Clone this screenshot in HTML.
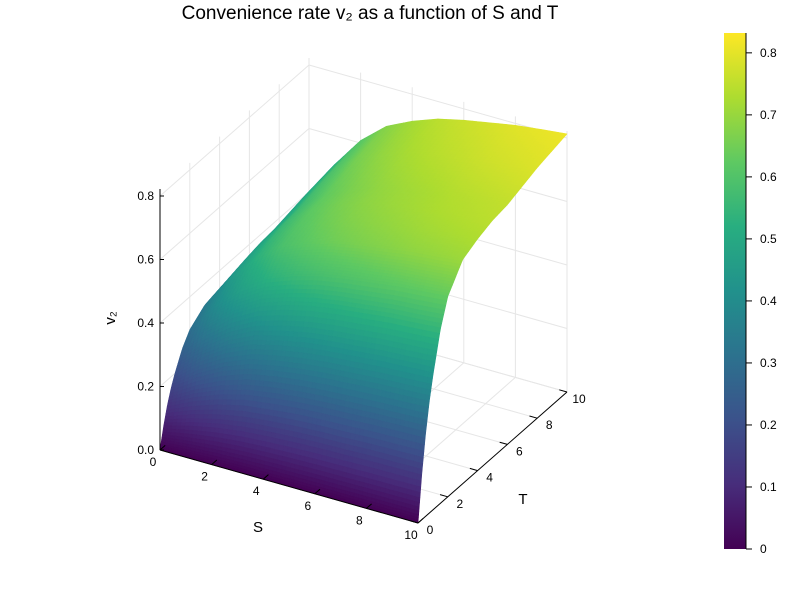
<!DOCTYPE html>
<html><head><meta charset="utf-8"><style>
html,body{margin:0;padding:0;background:#fff;}
svg{display:block;font-family:"Liberation Sans","DejaVu Sans",sans-serif;}
</style></head><body>
<svg id="chart" width="800" height="600" viewBox="0 0 800 600">
<defs>
<linearGradient id="vir" x1="0" y1="1" x2="0" y2="0">
<stop offset="0" stop-color="#440154"/><stop offset="0.125" stop-color="#472d7b"/><stop offset="0.25" stop-color="#3b528b"/><stop offset="0.375" stop-color="#2c728e"/><stop offset="0.5" stop-color="#21918c"/><stop offset="0.625" stop-color="#28ae80"/><stop offset="0.75" stop-color="#5ec962"/><stop offset="0.875" stop-color="#addc30"/><stop offset="1" stop-color="#fde725"/>
</linearGradient>
</defs>
<text x="370" y="19" text-anchor="middle" font-size="19" fill="#000">Convenience rate v₂ as a function of S and T</text>
<g id="grid"></g>
<g id="surf"></g>
<g id="axes"></g>
<text x="258" y="532" text-anchor="middle" font-size="15">S</text>
<text x="523" y="504" text-anchor="middle" font-size="15">T</text>
<text x="0" y="0" transform="translate(115,318) rotate(-90)" text-anchor="middle" font-size="15">v₂</text>
<rect x="724" y="33" width="22" height="516" fill="url(#vir)"/>
<line x1="746" y1="33" x2="746" y2="549" stroke="#000" stroke-width="1"/>
<g id="cbar"></g>
</svg>
<script>
const sVals = [0,1,2,3,4,5,6,7,8,9,10];
const tVals = [0,0.25,0.5,0.75,1,1.5,2,3,4,5,6,8,10];
// v2 values: rows = S, columns = T
const zRows = [
[0,.066,.121,.164,.199,.257,.296,.332,.343,.351,.355,.371,.382],
[0,.088,.161,.218,.265,.343,.395,.442,.458,.468,.473,.494,.510],
[0,.105,.192,.260,.316,.409,.471,.527,.546,.558,.564,.589,.608],
[0,.117,.214,.290,.352,.455,.524,.587,.607,.621,.628,.656,.676],
[0,.124,.226,.307,.372,.482,.555,.621,.642,.657,.664,.694,.715],
[0,.129,.236,.319,.388,.502,.578,.646,.669,.684,.692,.722,.745],
[0,.133,.242,.328,.398,.515,.593,.663,.686,.702,.710,.741,.764],
[0,.135,.246,.334,.405,.525,.604,.676,.700,.716,.723,.755,.779],
[0,.138,.251,.340,.413,.535,.616,.689,.713,.729,.737,.770,.794],
[0,.139,.254,.344,.418,.541,.623,.697,.722,.738,.746,.779,.804],
[0,.141,.257,.349,.423,.548,.631,.706,.730,.747,.755,.789,.813]
];
const zTicks = [0,0.2,0.4,0.6,0.8];
const sTicks = [0,2,4,6,8,10];
const tTicks = [0,2,4,6,8,10];
const cTicks = [0,0.1,0.2,0.3,0.4,0.5,0.6,0.7,0.8];
const zMaxBox = 0.822, cMax = 0.832;

const NS='http://www.w3.org/2000/svg';
function P(S,T,z){return [160+S*25.8+T*14.9, 450+S*7.3-T*13.1-z*317.5];}
const vir=['#440154','#472d7b','#3b528b','#2c728e','#21918c','#28ae80','#5ec962','#addc30','#fde725'];
function hx(c){return [1,3,5].map(i=>parseInt(c.substr(i,2),16));}
const virRGB=vir.map(hx);
function color(v){let t=Math.max(0,Math.min(1,v/cMax))*8;let i=Math.min(7,Math.floor(t));let f=t-i;
 const a=virRGB[i],b=virRGB[i+1];return 'rgb('+a.map((x,k)=>Math.round(x+(b[k]-x)*f)).join(',')+')';}
function mk(tag,attrs,parent){const e=document.createElementNS(NS,tag);for(const k in attrs)e.setAttribute(k,attrs[k]);parent.appendChild(e);return e;}
function interp(arr,v){for(let i=0;i<arr.length-1;i++){if(v<=arr[i+1])return [i,(v-arr[i])/(arr[i+1]-arr[i])];}return [arr.length-2,1];}
function Z(S,T){const [i,fs]=interp(sVals,S);const [j,ft]=interp(tVals,T);
 const a=zRows[i][j],b=zRows[i][j+1],c=zRows[i+1][j],d=zRows[i+1][j+1];
 return a*(1-fs)*(1-ft)+b*(1-fs)*ft+c*fs*(1-ft)+d*fs*ft;}

const grid=document.getElementById('grid');
const gs={stroke:'#e6e6e6','stroke-width':1,fill:'none'};
function line(a,b,par,st,name){const l=mk('line',Object.assign({x1:a[0],y1:a[1],x2:b[0],y2:b[1]},st),par);return l;}
zTicks.forEach(z=>{line(P(0,0,z),P(0,10,z),grid,gs,'z-grid-left');line(P(0,10,z),P(10,10,z),grid,gs,'z-grid-back');});
sTicks.forEach(s=>{line(P(s,10,0),P(s,10,zMaxBox),grid,gs,'s-grid-back');line(P(s,0,0),P(s,10,0),grid,gs,'s-grid-floor');});
tTicks.forEach(t=>{line(P(0,t,0),P(0,t,zMaxBox),grid,gs,'t-grid-left');line(P(0,t,0),P(10,t,0),grid,gs,'t-grid-floor');});

const surf=document.getElementById('surf');
const sm=[],tm=[];
for(let i=0;i<=60;i++)sm.push(i*10/60);
for(let j=0;j<=120;j++){const u=j/120;tm.push(10*Math.pow(u,1.6));}
const quads=[];
for(let i=0;i<sm.length-1;i++)for(let j=0;j<tm.length-1;j++){
 const s0=sm[i],s1=sm[i+1],t0=tm[j],t1=tm[j+1];
 const pts=[[s0,t0],[s1,t0],[s1,t1],[s0,t1]].map(p=>{const z=Z(p[0],p[1]);return {z,xy:P(p[0],p[1],z)};});
 const zc=pts.reduce((a,p)=>a+p.z,0)/4;
 quads.push({d:(t0+t1)/2-(s0+s1)/2,pts,zc});
}
quads.sort((a,b)=>b.d-a.d);
quads.forEach(q=>{const c=color(q.zc);
 const p=mk('polygon',{points:q.pts.map(p=>p.xy[0].toFixed(2)+','+p.xy[1].toFixed(2)).join(' '),fill:c,stroke:c,'stroke-width':0.6,'stroke-linejoin':'round'},surf);
 
 
});

const ax=document.getElementById('axes');
const as={stroke:'#000','stroke-width':1};
line(P(0,0,0),P(0,0,zMaxBox),ax,as,'z-axis-line');
line(P(0,0,0),P(10,0,0),ax,as,'s-axis-line');
line(P(10,0,0),P(10,10,0),ax,as,'t-axis-line');
function txt(x,y,s,anchor,name){const t=mk('text',{x,y,'font-size':12,'text-anchor':anchor,fill:'#000'},ax);t.textContent=s;}
zTicks.forEach(z=>{const p=P(0,0,z);line(p,[p[0]+4,p[1]],ax,as,'z-tick');txt(p[0]-6,p[1]+4,z===0?'0.0':z.toFixed(1),'end','z-tick-label');});
sTicks.forEach(s=>{const p=P(s,0,0);const q=P(s,0.35,0);line(p,q,ax,as,'s-tick');txt(p[0]-7,p[1]+16,String(s),'middle','s-tick-label');});
tTicks.forEach(t=>{const p=P(10,t,0);const q=P(9.7,t,0);line(p,q,ax,as,'t-tick');txt(p[0]+12,p[1]+11,String(t),'middle','t-tick-label');});

const cb=document.getElementById('cbar');
cTicks.forEach(v=>{const y=549-(v/cMax)*516;
 const l=mk('line',{x1:746,y1:y,x2:752,y2:y,stroke:'#000','stroke-width':1},cb);
 
 
 const t=mk('text',{x:760,y:y+4,'font-size':12,fill:'#000'},cb);t.textContent=v===0?'0':v.toFixed(1);
 
 
});
</script>
</body></html>
